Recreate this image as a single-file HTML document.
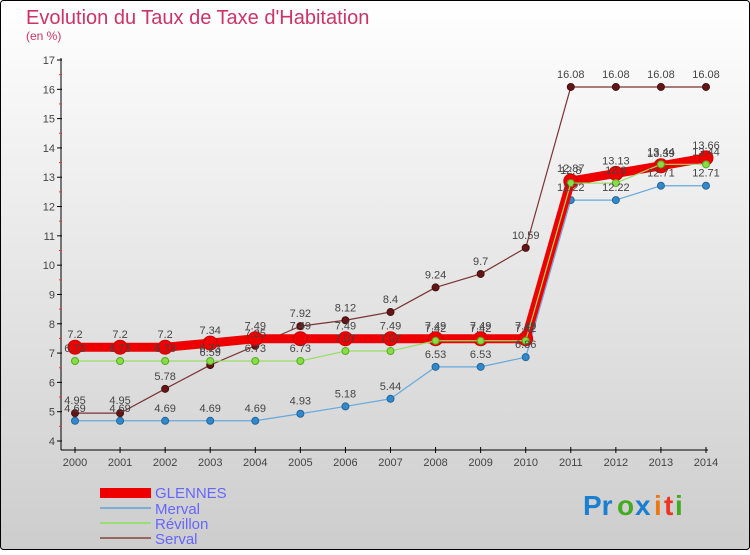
<!DOCTYPE html>
<html><head><meta charset="utf-8"><style>
html,body{margin:0;padding:0}
body{width:750px;height:550px;overflow:hidden;font-family:"Liberation Sans",sans-serif}
svg text{font-family:"Liberation Sans",sans-serif}
</style></head><body>
<svg id="chart" width="750" height="550" xmlns="http://www.w3.org/2000/svg">
<defs><linearGradient id="bg" x1="0" y1="0" x2="0" y2="1"><stop offset="0" stop-color="#ffffff"/><stop offset="1" stop-color="#cdcdcd"/></linearGradient></defs>
<rect x="0.5" y="0.5" width="749" height="549" fill="url(#bg)" stroke="#000" rx="3"/>
<text x="26" y="24" font-size="20" fill="#cc3366">Evolution du Taux de Taxe d'Habitation</text>
<text x="26" y="40" font-size="12" fill="#cc3366">(en %)</text>
<g id="axes"></g><g id="series"></g><g id="labels"></g>
<g>
<rect x="100" y="488" width="51" height="10" fill="#e00"/>
<text x="155" y="498" font-size="15" fill="#6666ff">GLENNES</text>
<line x1="100" y1="508" x2="151" y2="508" stroke="#7aaed6" stroke-width="2"/>
<text x="155" y="514" font-size="15" fill="#6666ff">Merval</text>
<line x1="100" y1="523" x2="151" y2="523" stroke="#99dd77" stroke-width="2"/>
<text x="155" y="529" font-size="15" fill="#6666ff">Révillon</text>
<line x1="100" y1="538" x2="151" y2="538" stroke="#996666" stroke-width="2"/>
<text x="155" y="544" font-size="15" fill="#6666ff">Serval</text>
</g>
<g font-size="28" font-weight="bold">
<text x="583" y="515" fill="#1a7fd0">Pr</text><text x="617" y="515" fill="#44aa22">o</text><text x="635" y="515" fill="#1a7fd0">x</text><text x="654" y="515" fill="#ee7711">i</text><text x="664" y="515" fill="#ee3322">t</text><text x="675" y="515" fill="#44aa22">i</text>
</g>
</svg>
<script>
const years=[2000,2001,2002,2003,2004,2005,2006,2007,2008,2009,2010,2011,2012,2013,2014];
const glennes=[7.2,7.2,7.2,7.34,7.49,7.49,7.49,7.49,7.49,7.49,7.49,12.87,13.13,13.39,13.66];
const merval=[4.69,4.69,4.69,4.69,4.69,4.93,5.18,5.44,6.53,6.53,6.86,12.22,12.22,12.71,12.71];
const revillon=[6.73,6.73,6.73,6.73,6.73,6.73,7.07,7.07,7.42,7.42,7.42,12.8,12.8,13.44,13.44];
const serval=[4.95,4.95,5.78,6.59,7.25,7.92,8.12,8.4,9.24,9.7,10.59,16.08,16.08,16.08,16.08];
const yTicks=[4,5,6,7,8,9,10,11,12,13,14,15,16,17];
const NS="http://www.w3.org/2000/svg";
function x(i){return 75+i*(706-75)/(years.length-1);}
function y(v){return 441-(v-4)*(441-60)/13;}
function mk(tag,attrs,parent){const e=document.createElementNS(NS,tag);for(const k in attrs)e.setAttribute(k,attrs[k]);parent.appendChild(e);return e;}
const axes=document.getElementById('axes'),ser=document.getElementById('series'),lab=document.getElementById('labels');
const ya=mk('line',{x1:61,y1:58,x2:61,y2:450,stroke:'#000'},axes);


const xa=mk('line',{x1:61,y1:450,x2:708,y2:450,stroke:'#000'},axes);


yTicks.forEach(t=>{
  mk('line',{x1:57,y1:y(t),x2:62,y2:y(t),stroke:'#000'},axes);
  if(t<17)mk('line',{x1:59,y1:y(t+0.5),x2:62,y2:y(t+0.5),stroke:'#e33'},axes);
  const tx=mk('text',{x:55,y:y(t)+4,'font-size':11,fill:'#444','text-anchor':'end'},axes);
  tx.textContent=t;
  
  
});
years.forEach((yr,i)=>{
  mk('line',{x1:x(i),y1:447,x2:x(i),y2:453,stroke:'#000'},axes);
  const tx=mk('text',{x:x(i),y:466,'font-size':11,fill:'#444','text-anchor':'middle'},axes);
  tx.textContent=yr;
  
  
});
function series(vals,name,color,w,dotR,dotFill,dotStroke){
  const p=mk('polyline',{points:vals.map((v,i)=>x(i)+','+y(v)).join(' '),fill:'none',stroke:color,'stroke-width':w,'stroke-linejoin':'round'},ser);
  
  
  vals.forEach((v,i)=>{
    const c=mk('circle',{cx:x(i),cy:y(v),r:dotR,fill:dotFill,stroke:dotStroke,'stroke-width':1},ser);
    
    
    const t=mk('text',{x:x(i),y:y(v)-9,'font-size':11,fill:'#444','text-anchor':'middle'},lab);
    t.textContent=String(v);
    
    
  });
}
series(serval,'serval','#7a3333',1.2,3.5,'#661515','#441010');
series(merval,'merval','#66a8dd',1.2,3.5,'#3388cc','#226699');
series(glennes,'glennes','#ee0000',9,7,'#ee0000','#cc0000');
series(revillon,'revillon','#99dd66',1.2,3.5,'#88dd44','#55aa22');
</script>
</body></html>
